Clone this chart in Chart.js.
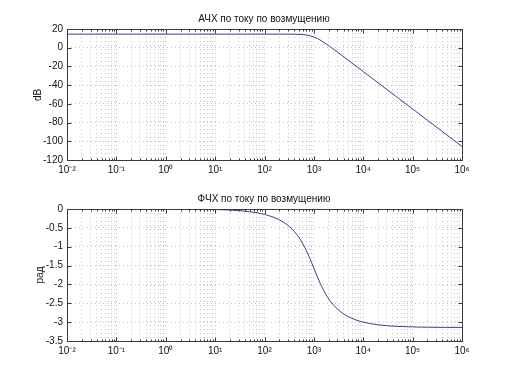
<!DOCTYPE html>
<html>
<head>
<meta charset="utf-8">
<script src="https://cdn.jsdelivr.net/npm/chart.js@4/dist/chart.umd.min.js"></script>
<style>
html,body{margin:0;padding:0;background:#fff;}
#wrap{position:relative;width:511px;height:383px;overflow:hidden;font-family:'Liberation Sans',Arial,sans-serif;color:#111;}
canvas{position:absolute;left:0;}
.t{position:absolute;font-size:10px;line-height:12px;white-space:nowrap;transform:translate(-50%,-50%);}
.yl{position:absolute;font-size:10px;line-height:12px;white-space:nowrap;transform:translate(-50%,-50%) rotate(-90deg);}
</style>
</head>
<body>
<div id="wrap">
<canvas id="c1" width="511" height="190" style="top:0"></canvas>
<canvas id="c2" width="511" height="193" style="top:190px"></canvas>
<div class="t" id="t1" style="left:264px;top:19px"></div>
<div class="t" id="t2" style="left:264px;top:199px"></div>
<div class="yl" id="y1" style="left:38px;top:95px"></div>
<div class="yl" id="y2" style="left:40px;top:275px"></div>
</div>
<script>
// frequency (rad/s)
const freq = [0.01, 0.1, 1, 10, 50, 100, 200, 300, 400, 500, 600, 700, 800, 900, 1000, 1200, 1500, 2000, 3000, 5000, 7000, 10000, 20000, 50000, 100000, 200000, 500000, 1000000];
// magnitude, dB
const magDb = [14.5, 14.5, 14.5, 14.5, 14.5, 14.5, 14.49, 14.46, 14.39, 14.24, 13.97, 13.57, 13.01, 12.31, 11.49, 9.62, 6.67, 2.2, -4.64, -13.47, -19.31, -25.5, -37.54, -53.46, -65.5, -77.54, -93.46, -105.5];
// phase, rad
const phaseRad = [0, 0, -0.001, -0.014, -0.071, -0.142, -0.287, -0.436, -0.593, -0.756, -0.924, -1.095, -1.263, -1.423, -1.571, -1.825, -2.103, -2.386, -2.654, -2.855, -2.938, -3.0, -3.071, -3.113, -3.127, -3.135, -3.139, -3.140];
// x decades and labels
const decades = [-2, -1, 0, 1, 2, 3, 4, 5, 6];
const xTickLabels = ['10\u207B\u00B2', '10\u207B\u00B9', '10\u2070', '10\u00B9', '10\u00B2', '10\u00B3', '10\u2074', '10\u2075', '10\u2076'];
const titles = ['АЧХ по току по возмущению', 'ФЧХ по току по возмущению'];
const yLabels = ['dB', 'рад'];

document.getElementById('t1').textContent = titles[0];
document.getElementById('t2').textContent = titles[1];
document.getElementById('y1').textContent = yLabels[0];
document.getElementById('y2').textContent = yLabels[1];

const FONT = "'Liberation Sans', Arial, sans-serif";
const GRID = '#c4c4c4';
const LINE = '#3d3d8f';
const BOX = '#3a3a3a';

const boxPlugin = {
  id: 'box',
  afterDraw(chart) {
    const a = chart.chartArea, ctx = chart.ctx;
    const L = Math.round(a.left) + 0.5, T = Math.round(a.top) + 0.5;
    const R = Math.round(a.right) + 0.5, B = Math.round(a.bottom) + 0.5;
    ctx.save();
    ctx.strokeStyle = BOX;
    ctx.lineWidth = 1;
    ctx.strokeRect(L, T, R - L, B - T);
    ctx.beginPath();
    const xs = chart.scales.x, ys = chart.scales.y;
    xs.ticks.forEach(t => {
      const px = Math.round(xs.getPixelForValue(t.value)) + 0.5;
      const major = t.label !== '';
      const len = major ? 4 : 2;
      ctx.moveTo(px, B); ctx.lineTo(px, B - len);
      ctx.moveTo(px, T); ctx.lineTo(px, T + len);
    });
    ys.ticks.forEach(t => {
      const py = Math.round(ys.getPixelForValue(t.value)) + 0.5;
      ctx.moveTo(L, py); ctx.lineTo(L + 4, py);
      ctx.moveTo(R, py); ctx.lineTo(R - 4, py);
    });
    ctx.stroke();
    ctx.restore();
  }
};

function makeChart(id, values, yMin, yMax, yStep, padTop, xAxisH) {
  const pts = freq.map((f, i) => ({x: f, y: values[i]}));
  return new Chart(document.getElementById(id), {
    type: 'line',
    data: {datasets: [{data: pts, borderColor: LINE, borderWidth: 1, pointRadius: 0, fill: false, cubicInterpolationMode: 'monotone'}]},
    plugins: [boxPlugin],
    options: {
      responsive: false, animation: false, devicePixelRatio: 1,
      layout: {padding: {top: padTop, right: 49, bottom: 0, left: 0}},
      plugins: {legend: {display: false}, tooltip: {enabled: false}, title: {display: false}},
      scales: {
        x: {
          type: 'logarithmic', min: 1e-2, max: 1e6,
          afterBuildTicks(scale) {
            const t = [];
            for (const d of decades) {
              for (let k = 1; k <= 9; k++) {
                const v = k * Math.pow(10, d);
                if (v <= 1e6 * 1.0001) t.push({value: v});
              }
            }
            scale.ticks = t;
          },
          afterFit(scale) { scale.height = xAxisH; },
          ticks: {
            autoSkip: false, maxRotation: 0, padding: 4, color: '#111',
            font: {family: FONT, size: 10},
            callback(v) {
              const d = Math.round(Math.log10(v));
              if (Math.abs(v - Math.pow(10, d)) < 1e-9 * Math.pow(10, d)) {
                const i = decades.indexOf(d);
                return i >= 0 ? xTickLabels[i] : '';
              }
              return '';
            }
          },
          grid: {color: GRID, drawTicks: false, lineWidth: 1},
          border: {display: false, dash: [1, 3]}
        },
        y: {
          min: yMin, max: yMax,
          afterFit(scale) { scale.width = 67; },
          ticks: {stepSize: yStep, padding: 4, color: '#111', font: {family: FONT, size: 10},
                  callback(v) { return String(Math.round(v * 100) / 100); }},
          grid: {color: GRID, drawTicks: false, lineWidth: 1},
          border: {display: false, dash: [1, 3]}
        }
      }
    }
  });
}

makeChart('c1', magDb, -120, 20, 20, 29, 30);
makeChart('c2', phaseRad, -3.5, 0, 0.5, 19, 42);
</script>
</body>
</html>
